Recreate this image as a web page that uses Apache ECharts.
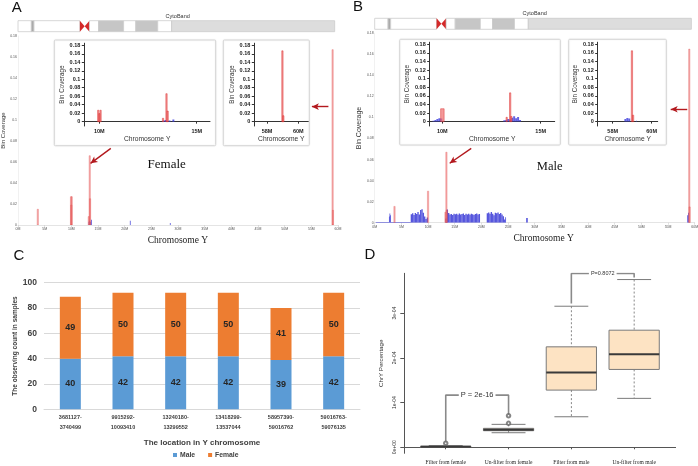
<!DOCTYPE html>
<html><head><meta charset="utf-8">
<script src="https://cdn.jsdelivr.net/npm/echarts@6/dist/echarts.min.js"></script>
<style>html,body{margin:0;padding:0;background:#fff}#c{width:698px;height:466px}</style>
</head><body><div id="c"></div>
<script>
// ================= DATA =================
// Cytoband of chrY (Mb)
const cytoStart = [0, 2.5, 3.0, 11.6, 12.5, 13.4, 15.1, 19.8, 22.1, 26.2, 28.8];
const cytoEnd   = [2.5, 3.0, 11.6, 12.5, 13.4, 15.1, 19.8, 22.1, 26.2, 28.8, 59.373566];
const cytoStain = ['gneg','gpos75','gneg','acenP','acenQ','gneg','gpos50','gneg','gpos50','gneg','gvar'];

// Bin coverage: [start Mb, end Mb, coverage]
const femaleRed = [
  [3.681127, 3.740499, 0.015],
  [9.915292, 9.975, 0.027],
  [9.975, 10.035, 0.019],
  [10.035, 10.09341, 0.027],
  [13.24018, 13.299552, 0.008],
  [13.418299, 13.478, 0.066],
  [13.478, 13.537044, 0.025],
  [58.95739, 59.016762, 0.167],
  [59.016763, 59.076135, 0.014]
];
const femaleBlue = [
  [13.25, 13.35, 0.003], [13.35, 13.45, 0.004], [13.55, 13.65, 0.003],
  [13.75, 13.85, 0.005], [21.0, 21.1, 0.004], [28.5, 28.6, 0.002]
];
const maleRed = [
  [3.681127, 3.740499, 0.0155],
  [9.915292, 10.09341, 0.030],
  [13.24018, 13.299552, 0.010],
  [13.418299, 13.478, 0.067],
  [13.478, 13.537044, 0.012],
  [58.95739, 59.016762, 0.165],
  [59.016763, 59.076135, 0.015]
];
const maleBlue = [
  [0.2, 2.7, 0.0006],
  [2.7, 2.8, 0.0060], [2.8, 2.9, 0.0088], [2.9, 3.0, 0.0070],
  [3.0, 6.75, 0.0006],
  [6.75, 7.0, 0.0080], [7.0, 7.25, 0.0090], [7.25, 7.5, 0.0074], [7.5, 7.75, 0.0092],
  [7.75, 8.0, 0.0083], [8.0, 8.25, 0.0102], [8.25, 8.5, 0.0079], [8.5, 8.75, 0.0121],
  [8.75, 9.0, 0.0129], [9.0, 9.25, 0.0094], [9.25, 9.5, 0.0060], [9.5, 9.75, 0.0035],
  [9.75, 10.0, 0.0050],
  [13.25, 13.5, 0.0040], [13.5, 13.75, 0.0125], [13.75, 14.0, 0.0092], [14.0, 14.25, 0.0078],
  [14.25, 14.5, 0.0083], [14.5, 14.75, 0.0072], [14.75, 15.0, 0.0086], [15.0, 15.25, 0.0080],
  [15.25, 15.5, 0.0084], [15.5, 15.75, 0.0075], [15.75, 16.0, 0.0087], [16.0, 16.25, 0.0079],
  [16.25, 16.5, 0.0082], [16.5, 16.75, 0.0088], [16.75, 17.0, 0.0073], [17.0, 17.25, 0.0085],
  [17.25, 17.5, 0.0078], [17.5, 17.75, 0.0084], [17.75, 18.0, 0.0076], [18.0, 18.25, 0.0086],
  [18.25, 18.5, 0.0080], [18.5, 18.75, 0.0074], [18.75, 19.0, 0.0083], [19.0, 19.25, 0.0087],
  [19.25, 19.5, 0.0079], [19.5, 19.75, 0.0082],
  [21.0, 21.25, 0.0090], [21.25, 21.5, 0.0098], [21.5, 21.75, 0.0086], [21.75, 22.0, 0.0101],
  [22.0, 22.25, 0.0084], [22.25, 22.5, 0.0070], [22.5, 22.75, 0.0094], [22.75, 23.0, 0.0089],
  [23.0, 23.25, 0.0098], [23.25, 23.5, 0.0082], [23.5, 23.75, 0.0091], [23.75, 24.0, 0.0077],
  [24.0, 24.25, 0.0062], [24.25, 24.5, 0.0030], [24.5, 24.6, 0.0052],
  [28.4, 28.7, 0.0045],
  [58.6, 58.75, 0.0070], [58.75, 58.9, 0.0095]
];
const maleBlueInset = [
  [9.5, 9.6, 0.002], [9.6, 9.7, 0.004], [9.7, 9.8, 0.006], [9.8, 9.9, 0.008], [9.9, 10.0, 0.007],
  [13.1, 13.2, 0.003], [13.2, 13.3, 0.004], [13.3, 13.4, 0.006], [13.4, 13.5, 0.005],
  [13.5, 13.6, 0.009], [13.6, 13.7, 0.0125], [13.7, 13.8, 0.008], [13.8, 13.9, 0.0105],
  [13.9, 14.0, 0.004],
  [58.6, 58.7, 0.006], [58.7, 58.8, 0.0085], [58.8, 58.9, 0.007], [59.2, 59.25, 0.002]
];
const insetYTicks  = [0, 0.02, 0.04, 0.06, 0.08, 0.1, 0.12, 0.14, 0.16, 0.18];
const insetYLabels = ['0','0.02','0.04','0.06','0.08','0.1','0.12','0.14','0.16','0.18'];

// Panel C
const locLabels = ['3681127-\n3740499', '9915292-\n10093410', '13240180-\n13299552',
                   '13418299-\n13537044', '58957390-\n59016762', '59016763-\n59076135'];
const maleCounts   = [40, 42, 42, 42, 39, 42];
const femaleCounts = [49, 50, 50, 50, 41, 50];

// Panel D: [lower whisker, Q1, median, Q3, upper whisker]
const boxCats = ['Filter from female', 'Un-filter from female', 'Filter from male', 'Un-filter from male'];
const boxStats = [
  [0.000e-4, 0.004e-4, 0.012e-4, 0.025e-4, 0.040e-4],
  [0.326e-4, 0.371e-4, 0.395e-4, 0.424e-4, 0.513e-4],
  [0.683e-4, 1.279e-4, 1.674e-4, 2.246e-4, 3.154e-4],
  [1.094e-4, 1.741e-4, 2.083e-4, 2.618e-4, 3.750e-4]
];
const boxOutliers = [[1, 0.09e-4], [2, 0.536e-4], [2, 0.705e-4]];
const dTickValues = [0, 1e-4, 2e-4, 3e-4];
const dTickLabels = ['0e+00', '1e-04', '2e-04', '3e-04'];
// brackets: [fromCat, toCat, barY, leftEndY, rightEndY]
const pBrackets = [[1, 2, 1.167e-4, 0.125e-4, 0.72e-4], [3, 4, 3.884e-4, 3.214e-4, 3.795e-4]];
const pTexts = ['P = 2e-16', 'P=0.8072'];

// annotation arrows in data coords (Mb, coverage): [tail, head]
const arrowsA = [[[17.4, 0.073], [13.6, 0.0587]], [[58.2, 0.1127], [55.1, 0.1127]]];
const arrowsB = [[[18.1, 0.0707], [14.06, 0.0565]], [[58.6, 0.1078], [55.5, 0.1078]]];

// ================= RENDER =================
const SANS = 'Liberation Sans, Arial, sans-serif';
const SERIF = 'Liberation Serif, Times New Roman, serif';
const chart = echarts.init(document.getElementById('c'), null, {renderer: 'canvas', width: 698, height: 466});

function spikeRender(fill, stroke, minW) {
  return function (params, api) {
    const a = api.coord([api.value(0), api.value(2)]);
    const b = api.coord([api.value(1), 0]);
    let x = a[0], w = b[0] - a[0];
    if (w < minW) { x = (a[0] + b[0]) / 2 - minW / 2; w = minW; }
    return {type: 'rect', shape: {x: x, y: a[1], width: w, height: b[1] - a[1]},
      style: {fill: fill, stroke: stroke || null, lineWidth: 0.5}};
  };
}
const cytoColors = {gneg: '#ffffff', gpos50: '#c6c6c6', gpos75: '#aaaaaa', gvar: '#dddddd'};
function cytoRender(params, api) {
  const st = cytoStain[api.value(2)];
  const a = api.coord([api.value(0), 1]), b = api.coord([api.value(1), 0]);
  const mid = (a[1] + b[1]) / 2;
  if (st === 'acenP') return {type: 'polygon', shape: {points: [[a[0], a[1]], [a[0], b[1]], [b[0], mid]]}, style: {fill: '#d42a2a'}};
  if (st === 'acenQ') return {type: 'polygon', shape: {points: [[b[0], a[1]], [b[0], b[1]], [a[0], mid]]}, style: {fill: '#d42a2a'}};
  return {type: 'rect', shape: {x: a[0], y: a[1], width: b[0] - a[0], height: b[1] - a[1]},
    style: {fill: cytoColors[st], stroke: '#cccccc', lineWidth: 0.8}};
}

const grids = [], xAxes = [], yAxes = [], series = [];
function addGrid(g) { g.outerBoundsMode = 'none'; g.containLabel = false; grids.push(g); return grids.length - 1; }

function cytoPanel(left, top, width) {
  const gi = addGrid({left: left, top: top, width: width, height: 11});
  xAxes.push({gridIndex: gi, type: 'value', min: 0, max: 60, show: false});
  yAxes.push({gridIndex: gi, type: 'value', min: 0, max: 1, show: false});
  series.push({type: 'custom', xAxisIndex: gi, yAxisIndex: gi, renderItem: cytoRender, clip: false,
    encode: {x: [0, 1], y: 2}, silent: true, data: cytoStart.map((s, i) => [s, cytoEnd[i], i])});
}
function mainPanel(left, top, height, red, blue, arrows, yNameGap, yNameSize, xNamePad) {
  const gi = addGrid({left: left, top: top, width: 320, height: height});
  xAxes.push({gridIndex: gi, type: 'value', min: 0, max: 60, interval: 5,
    axisLine: {show: true, lineStyle: {color: '#dddddd', width: 0.8}},
    axisTick: {show: true, length: 2, lineStyle: {color: '#cccccc', width: 0.6}},
    axisLabel: {fontSize: 3.5, color: '#555', margin: 2, formatter: v => v + 'M'},
    splitLine: {show: false},
    name: 'Chromosome Y', nameLocation: 'middle', nameGap: 10.5,
    nameTextStyle: {fontFamily: SERIF, fontSize: 9.5, color: '#222', padding: [0, 0, 0, xNamePad]}});
  yAxes.push({gridIndex: gi, type: 'value', min: 0, max: 0.18, interval: 0.02,
    axisLine: {show: true, lineStyle: {color: '#eeeeee', width: 0.8}},
    axisTick: {show: false}, splitLine: {show: false},
    axisLabel: {fontSize: 3.5, color: '#555', margin: 1},
    name: 'Bin Coverage', nameLocation: 'middle', nameGap: yNameGap,
    nameTextStyle: {fontSize: yNameSize, color: '#333'}});
  series.push({type: 'custom', xAxisIndex: gi, yAxisIndex: gi, clip: true, silent: true,
    encode: {x: [0, 1], y: 2}, renderItem: spikeRender('rgba(55,55,215,0.85)', null, 0.8), data: blue});
  series.push({type: 'custom', xAxisIndex: gi, yAxisIndex: gi, clip: true, silent: true,
    encode: {x: [0, 1], y: 2}, renderItem: spikeRender('rgba(238,110,110,0.55)', 'rgba(220,60,60,0.55)', 1.3), data: red,
    markLine: {silent: true, animation: false, symbol: ['none', 'arrow'], symbolSize: [5, 7],
      lineStyle: {color: '#b3191e', width: 1.4, type: 'solid'}, label: {show: false},
      emphasis: {disabled: true},
      data: arrows.map(a => [{coord: a[0]}, {coord: a[1]}])}});
}
function insetPanel(left, top, width, xmin, xmax, xticks, red, blue) {
  const gi = addGrid({left: left, top: top, width: width, height: 126 - top + 0.0});
  xAxes.push({gridIndex: gi, type: 'value', min: xmin, max: xmax,
    axisLine: {show: true, lineStyle: {color: '#333', width: 1}},
    axisTick: {show: true, length: 2, customValues: xticks, lineStyle: {color: '#333'}},
    axisLabel: {customValues: xticks, fontSize: 5.5, fontWeight: 'bold', color: '#222', margin: 2.5, formatter: v => v + 'M'},
    splitLine: {show: false},
    name: 'Chromosome Y', nameLocation: 'middle', nameGap: 10,
    nameTextStyle: {fontSize: 6.7, color: '#333'}});
  yAxes.push({gridIndex: gi, type: 'value', min: -0.0102, max: 0.185,
    axisLine: {show: true, lineStyle: {color: '#333', width: 1}},
    axisTick: {show: true, length: 2.5, customValues: insetYTicks, lineStyle: {color: '#333'}},
    axisLabel: {customValues: insetYTicks, fontSize: 5.5, fontWeight: 'bold', color: '#222', margin: 4,
      formatter: v => insetYLabels[Math.round(v * 50)]},
    splitLine: {show: false},
    name: 'Bin Coverage', nameLocation: 'middle', nameGap: 19,
    nameTextStyle: {fontSize: 6.3, color: '#333'}});
  series.push({type: 'custom', xAxisIndex: gi, yAxisIndex: gi, clip: true, silent: true,
    encode: {x: [0, 1], y: 2}, renderItem: spikeRender('rgba(60,60,220,0.8)', null, 0.9), data: blue});
  series.push({type: 'custom', xAxisIndex: gi, yAxisIndex: gi, clip: true, silent: true,
    encode: {x: [0, 1], y: 2}, renderItem: spikeRender('rgba(240,110,110,0.7)', 'rgba(220,40,40,0.9)', 1.3), data: red});
}

// Panel A
cytoPanel(18, 20.7, 320);
mainPanel(18, 36, 189, femaleRed, femaleBlue, arrowsA, 11.5, 6, 0);
insetPanel(84.3, 43.2, 125.7, 9.23, 15.68, [10, 15], femaleRed, femaleBlue);
insetPanel(254.3, 43.2, 54, 57.19, 60.64, [58, 60], femaleRed, femaleBlue);
// Panel B
cytoPanel(374.7, 18.3, 320);
mainPanel(374.7, 33.3, 189.4, maleRed, maleBlue, arrowsB, 10, 7, 18);
insetPanel(429.7, 42.2, 125, 9.36, 15.71, [10, 15], maleRed, maleBlueInset);
insetPanel(597.7, 42.2, 60, 57.23, 60.31, [58, 60], maleRed, maleBlueInset);

// Panel C
const gC = addGrid({left: 44, top: 282.7, width: 316, height: 126.6});
xAxes.push({gridIndex: gC, type: 'category', data: locLabels,
  axisLine: {show: true, lineStyle: {color: '#d9d9d9'}}, axisTick: {show: false},
  axisLabel: {interval: 0, fontSize: 5.5, fontWeight: 'bold', color: '#404040', lineHeight: 9.5, margin: 3.5},
  name: 'The location in Y chromosome', nameLocation: 'middle', nameGap: 29,
  nameTextStyle: {fontSize: 8, fontWeight: 'bold', color: '#404040'}});
yAxes.push({gridIndex: gC, type: 'value', min: 0, max: 100, interval: 20,
  axisLine: {show: false}, axisTick: {show: false},
  axisLabel: {fontSize: 8.5, fontWeight: 'bold', color: '#404040', margin: 7},
  splitLine: {show: true, lineStyle: {color: '#d9d9d9', width: 1}},
  name: 'The observing count in samples', nameLocation: 'middle', nameGap: 23.5,
  nameTextStyle: {fontSize: 6.5, fontWeight: 'bold', color: '#404040'}});
const barLabel = {show: true, position: 'inside', fontSize: 9, fontWeight: 'bold', color: '#262626'};
series.push({type: 'bar', name: 'Male', xAxisIndex: gC, yAxisIndex: gC, stack: 'n', barWidth: 21,
  itemStyle: {color: '#5b9bd5'}, label: barLabel, data: maleCounts, silent: true});
series.push({type: 'bar', name: 'Female', xAxisIndex: gC, yAxisIndex: gC, stack: 'n', barWidth: 21,
  itemStyle: {color: '#ed7d31'}, label: barLabel, data: femaleCounts, silent: true});

// Panel D
const gD = addGrid({left: 404.3, top: 273.3, width: 271.3, height: 180});
xAxes.push({gridIndex: gD, type: 'value', min: 0.34, max: 4.66,
  axisLine: {show: true, lineStyle: {color: '#555', width: 1}},
  axisTick: {show: true, length: 2, customValues: [1, 2, 3, 4], lineStyle: {color: '#555'}},
  axisLabel: {customValues: [1, 2, 3, 4], fontFamily: SERIF, fontSize: 5.5, color: '#222', margin: 6,
    formatter: v => boxCats[Math.round(v) - 1]},
  splitLine: {show: false}});
yAxes.push({gridIndex: gD, type: 'value', min: -0.134e-4, max: 3.89e-4,
  axisLine: {show: true, lineStyle: {color: '#555', width: 1}},
  axisTick: {show: true, length: 4, customValues: dTickValues, lineStyle: {color: '#555'}},
  axisLabel: {customValues: dTickValues, rotate: 90, fontSize: 5, color: '#333', margin: 7,
    formatter: v => dTickLabels[Math.round(v * 1e4)]},
  splitLine: {show: false},
  name: 'ChrY Percentage', nameLocation: 'middle', nameGap: 20,
  nameTextStyle: {fontSize: 6.2, color: '#333'}});
series.push({type: 'custom', xAxisIndex: gD, yAxisIndex: gD, clip: false, silent: true,
  encode: {x: 0, y: [1, 2, 3, 4, 5]},
  data: boxStats.map((s, i) => [i + 1].concat(s)),
  renderItem: function (params, api) {
    const x = api.value(0);
    const lo = api.coord([x, api.value(1)])[1], q1 = api.coord([x, api.value(2)])[1];
    const med = api.coord([x, api.value(3)])[1], q3 = api.coord([x, api.value(4)])[1];
    const hi = api.coord([x, api.value(5)])[1];
    const cx = api.coord([x, 0])[0];
    const bl = api.coord([x - 0.4, 0])[0], br = api.coord([x + 0.4, 0])[0];
    const cl = api.coord([x - 0.27, 0])[0], cr = api.coord([x + 0.27, 0])[0];
    const grey = '#7a7a7a';
    return {type: 'group', children: [
      {type: 'line', shape: {x1: cx, y1: hi, x2: cx, y2: q3}, style: {stroke: grey, lineWidth: 0.9, lineDash: [2, 2]}},
      {type: 'line', shape: {x1: cx, y1: q1, x2: cx, y2: lo}, style: {stroke: grey, lineWidth: 0.9, lineDash: [2, 2]}},
      {type: 'line', shape: {x1: cl, y1: hi, x2: cr, y2: hi}, style: {stroke: grey, lineWidth: 1}},
      {type: 'line', shape: {x1: cl, y1: lo, x2: cr, y2: lo}, style: {stroke: grey, lineWidth: 1}},
      {type: 'rect', shape: {x: bl, y: q3, width: br - bl, height: Math.max(q1 - q3, 1)},
        style: {fill: '#fde3c3', stroke: grey, lineWidth: 1}},
      {type: 'line', shape: {x1: bl, y1: med, x2: br, y2: med}, style: {stroke: '#3a3a3a', lineWidth: 2}}
    ]};
  }});
series.push({type: 'scatter', xAxisIndex: gD, yAxisIndex: gD, symbol: 'emptyCircle', symbolSize: 3.5,
  itemStyle: {color: '#666', borderWidth: 0.8}, data: boxOutliers, silent: true, z: 4});
pBrackets.forEach(b => {
  series.push({type: 'line', xAxisIndex: gD, yAxisIndex: gD, symbol: 'none', silent: true,
    lineStyle: {color: '#8a8a8a', width: 1.6}, z: 3,
    data: [[b[0], b[3]], [b[0], b[2]], [b[1], b[2]], [b[1], b[4]]]});
});
series.push({type: 'custom', xAxisIndex: gD, yAxisIndex: gD, clip: false, silent: true, z: 5,
  data: pBrackets.map((b, i) => [(b[0] + b[1]) / 2, b[2], i]),
  renderItem: function (params, api) {
    const p = api.coord([api.value(0), api.value(1)]);
    const i = api.value(2);
    return {type: 'text', x: p[0], y: p[1], style: {text: pTexts[i], fontFamily: SANS,
      fontSize: i === 0 ? 7.5 : 5.5, fill: '#333', align: 'center', verticalAlign: 'middle',
      backgroundColor: '#fff', padding: [0, 2]}};
  }});

const txt = (x, y, text, size, opts) => Object.assign({type: 'text', x: x, y: y, z: 10,
  style: Object.assign({text: text, fontSize: size, fontFamily: SANS, fill: '#111', align: 'center', verticalAlign: 'middle'}, opts || {})});
const frame = (x, y, w, h) => ({type: 'rect', z: 0, shape: {x: x, y: y, width: w, height: h, r: 1},
  style: {fill: '#fff', stroke: '#d6d6d6', lineWidth: 1, shadowBlur: 2, shadowColor: 'rgba(0,0,0,0.08)'}});

chart.setOption({
  animation: false,
  textStyle: {fontFamily: SANS},
  grid: grids, xAxis: xAxes, yAxis: yAxes, series: series,
  legend: {data: ['Male', 'Female'], left: 173, top: 451.5, itemWidth: 4, itemHeight: 4, itemGap: 13,
    icon: 'rect', selectedMode: false, padding: 0,
    textStyle: {fontSize: 6.8, fontWeight: 'bold', color: '#404040', padding: [0, 0, 0, -2]}},
  graphic: [
    frame(54.3, 40, 161.4, 105.7), frame(223.3, 40, 86, 105.7),
    frame(399.7, 39.3, 160.6, 105.7), frame(568.7, 39.3, 97.6, 105.7),
    txt(16.7, 8, 'A', 15), txt(358, 7, 'B', 15), txt(19, 255.5, 'C', 15), txt(370, 254.7, 'D', 15),
    txt(177.7, 16, 'CytoBand', 5.5, {fill: '#333'}), txt(534.7, 13.8, 'CytoBand', 5.5, {fill: '#333'}),
    txt(166.7, 165, 'Female', 13, {fontFamily: SERIF}), txt(549.7, 166.7, 'Male', 12.5, {fontFamily: SERIF})
  ]
});
</script></body></html>
